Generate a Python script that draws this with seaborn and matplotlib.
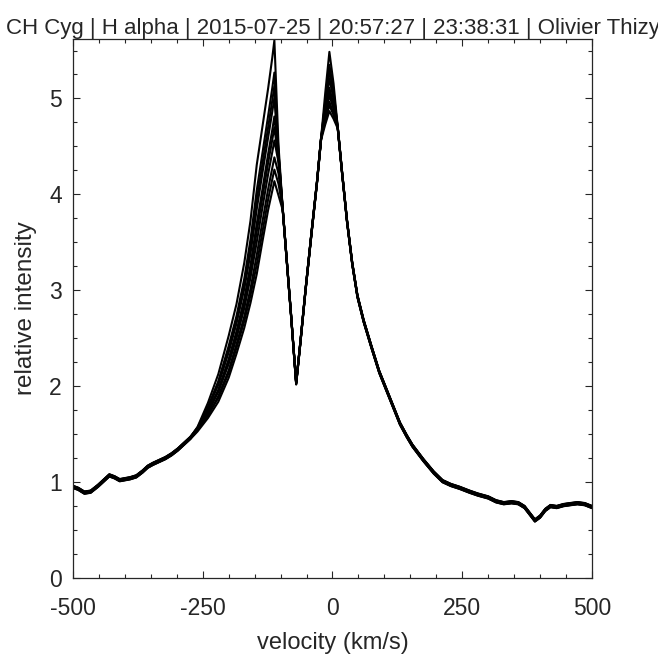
import numpy as np
import pandas as pd
import matplotlib
matplotlib.use("Agg")
import matplotlib.pyplot as plt
from matplotlib.ticker import MultipleLocator
import seaborn as sns

# ---------------- data ----------------
# shared blue wing
left_v = [-500, -490, -478, -466, -452, -440, -430, -420, -410, -400, -390, -378,
          -366, -356, -346, -334, -322, -310, -298, -286, -274]
left_I = [0.95, 0.93, 0.89, 0.90, 0.96, 1.02, 1.07, 1.05, 1.02, 1.03, 1.04, 1.06,
          1.11, 1.16, 1.19, 1.22, 1.25, 1.29, 1.34, 1.40, 1.46]

# blue flank + blue peak, one row per spectrum
blue_v = [-260, -240, -220, -200, -185, -170, -158, -146, -135, -124, -116, -112]
blue_I = [
    [1.54, 1.68, 1.85, 2.10, 2.35, 2.62, 2.88, 3.18, 3.52, 3.85, 4.05, 4.15],
    [1.54, 1.69, 1.87, 2.13, 2.39, 2.67, 2.94, 3.26, 3.60, 3.94, 4.15, 4.25],
    [1.55, 1.70, 1.90, 2.17, 2.44, 2.73, 3.02, 3.37, 3.72, 4.06, 4.28, 4.39],
    [1.55, 1.72, 1.93, 2.22, 2.49, 2.80, 3.12, 3.49, 3.85, 4.20, 4.43, 4.55],
    [1.55, 1.73, 1.95, 2.26, 2.54, 2.87, 3.20, 3.61, 3.97, 4.33, 4.57, 4.70],
    [1.55, 1.74, 1.97, 2.29, 2.58, 2.92, 3.27, 3.70, 4.06, 4.43, 4.68, 4.82],
    [1.56, 1.76, 2.01, 2.35, 2.65, 3.01, 3.38, 3.84, 4.22, 4.59, 4.86, 5.00],
    [1.56, 1.77, 2.03, 2.38, 2.69, 3.06, 3.44, 3.93, 4.31, 4.69, 4.97, 5.12],
    [1.56, 1.79, 2.06, 2.43, 2.74, 3.13, 3.54, 4.05, 4.44, 4.83, 5.12, 5.28],
    [1.57, 1.82, 2.12, 2.52, 2.85, 3.28, 3.72, 4.30, 4.70, 5.10, 5.42, 5.60],
]

# just after the blue peak (per spectrum)
post_blue_v = -104
post_blue_I = [4.00, 4.10, 4.22, 4.32, 4.35, 4.38, 4.40, 4.42, 4.45, 4.50]

# absorption trough and rise to red peak (shared)
mid_v = [-96, -88, -80, -70, -62, -52, -40, -30, -22]
mid_I = [3.85, 3.30, 2.75, 2.03, 2.45, 3.00, 3.62, 4.12, 4.58]

# red peak (per spectrum): values at -14, -6 (peak) and +2 km/s
red_v = [-14, -6, 2]
red_pre = [4.74, 4.76, 4.78, 4.81, 4.84, 4.86, 4.90, 4.94, 4.98, 5.05]
red_peak = [4.88, 4.92, 4.97, 5.02, 5.08, 5.12, 5.20, 5.28, 5.36, 5.48]
red_post = [4.80, 4.82, 4.85, 4.88, 4.92, 4.94, 4.99, 5.04, 5.09, 5.15]

# red flank and wing (shared)
right_v = [10, 18, 28, 38, 48, 60, 75, 90, 110, 130, 143, 154, 175, 195, 212, 228,
           245, 264, 280, 300, 315, 330, 345, 358, 370, 380, 390, 400, 410, 420,
           432, 445, 458, 472, 486, 500]
right_I = [4.70, 4.25, 3.72, 3.28, 2.94, 2.68, 2.41, 2.15, 1.88, 1.61, 1.48, 1.38,
           1.23, 1.10, 1.01, 0.97, 0.94, 0.90, 0.87, 0.84, 0.80, 0.78, 0.79, 0.78,
           0.74, 0.67, 0.60, 0.64, 0.71, 0.75, 0.74, 0.76, 0.77, 0.78, 0.77, 0.74]

# small normalisation differences between spectra
level_offset = [-0.012, 0.008, -0.004, 0.012, 0.0, -0.008, 0.004, 0.010, -0.010, 0.006]

title_text = "CH Cyg | H alpha | 2015-07-25 | 20:57:27 | 23:38:31 | Olivier Thizy"

# ---------------- build long table ----------------
rows = []
for k in range(len(blue_I)):
    v = (left_v + blue_v + [post_blue_v] + mid_v + red_v + right_v)
    I = (left_I + blue_I[k] + [post_blue_I[k]] + mid_I +
         [red_pre[k], red_peak[k], red_post[k]] + right_I)
    for vi, Ii in zip(v, I):
        rows.append({"spectrum": k, "velocity": vi, "intensity": Ii + level_offset[k]})
df = pd.DataFrame(rows)

# ---------------- plot ----------------
sns.set_theme(style="ticks")
plt.rcParams['font.family'] = ['Liberation Sans', 'DejaVu Sans']
plt.rcParams['axes.unicode_minus'] = False
txt = '#262626'

fig = plt.figure(figsize=(6.58, 6.54), dpi=100)
ax = fig.add_axes([73/658, 76/654, (592-73)/658, (578-39)/654])

sns.lineplot(data=df, x="velocity", y="intensity", units="spectrum",
             estimator=None, color="black", linewidth=1.5, ax=ax, legend=False)

ax.set_xlim(-500, 500)
ax.set_ylim(0, 5.62)
ax.set_xticks([-500, -250, 0, 250, 500])
ax.set_yticks([0, 1, 2, 3, 4, 5])
ax.xaxis.set_minor_locator(MultipleLocator(50))
ax.yaxis.set_minor_locator(MultipleLocator(0.25))
ax.tick_params(which='both', direction='in', top=True, right=True,
               color=txt, width=0.8, labelcolor=txt, labelsize=16.5)
ax.tick_params(which='major', length=5)
ax.tick_params(axis='x', which='major', pad=14)
ax.tick_params(axis='y', which='major', pad=8)
ax.tick_params(which='minor', length=3)
for s in ax.spines.values():
    s.set_color(txt)
    s.set_linewidth(0.9)

ax.set_xlabel("velocity (km/s)", fontsize=17, color=txt, labelpad=8)
ax.set_ylabel("relative intensity", fontsize=17.5, color=txt, labelpad=9)
ax.set_title(title_text, fontsize=16, color=txt, pad=3, clip_on=False)

fig.savefig("out.png", dpi=100, facecolor="white")
